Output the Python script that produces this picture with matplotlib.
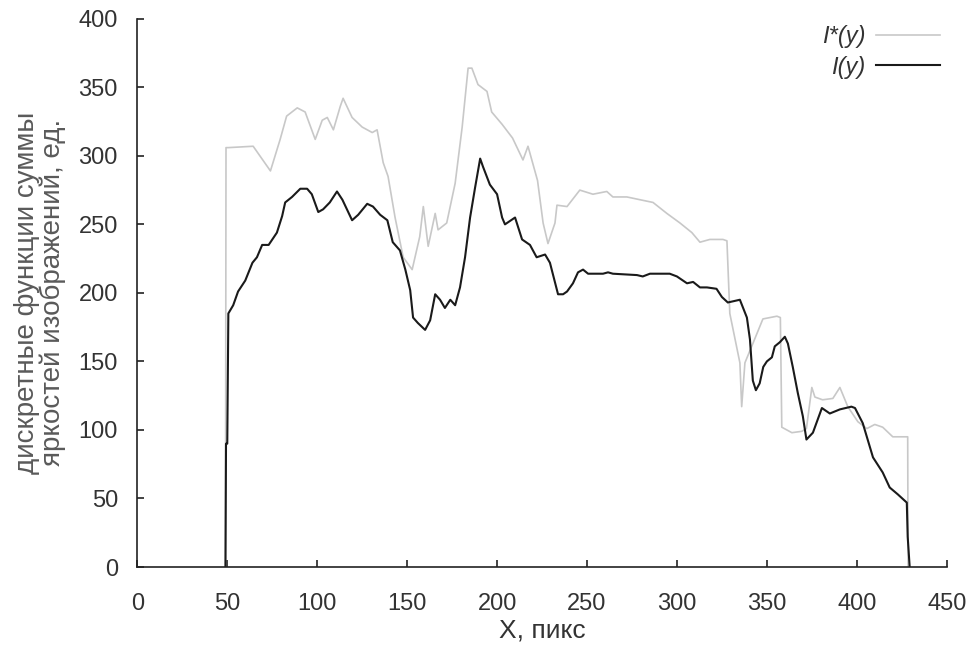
import matplotlib
matplotlib.use("Agg")
from matplotlib import pyplot as plt

plt.rcParams['font.family'] = ['Liberation Sans', 'DejaVu Sans']

# I*(y) - light gray curve
x_star = [49, 49.3, 50.6, 64.4, 74, 79.4, 83, 88.9, 93.3, 98.9, 102.8, 105.6, 109,
          112.8, 114.4, 119.4, 125, 130.6, 133.3, 136.7, 139.4, 143.3, 147.8, 152.8,
          157, 159, 161.7, 165.6, 167.2, 172, 176.7, 180.6, 183.9, 186, 189.4, 194.4,
          197, 202.8, 208.6, 214.4, 217.2, 222.5, 225.6, 228.3, 232.2, 233.3, 238.9,
          246, 253.3, 261, 264.4, 272.2, 279.4, 286.7, 294.4, 301.7, 308.3, 312.8,
          318.3, 325.6, 327.8, 329.4, 335, 336, 337.8, 342.2, 347.8, 355.6, 357.5,
          358.3, 363.9, 369.4, 372, 375, 376.7, 381, 386.7, 390.6, 395, 400.6, 405.6,
          410, 414.4, 420, 428.3, 428.5]
y_star = [0, 306, 306, 307, 289, 312, 329, 335, 332, 312, 326, 328, 319,
          336, 342, 328, 321, 317, 319, 295, 285, 255, 226, 217,
          241, 263, 234, 258, 246, 251, 280, 321, 364, 364, 352, 347,
          332, 323, 313, 297, 307, 282, 251, 236, 251, 264, 263,
          275, 272, 274, 270, 270, 268, 266, 258, 251, 244, 237,
          239, 239, 238, 185, 149, 117, 149, 163, 181, 183, 182,
          102, 98, 99, 101, 131, 124, 122, 123, 131, 117, 106, 101,
          104, 102, 95, 95, 0]

# I(y) - black curve
x_main = [49, 49.3, 50, 50.6, 53.3, 56, 60, 64, 66.5, 69.4, 73, 77.6, 80.5, 82.2,
          86, 90.6, 94.4, 97, 100.6, 103.3, 107, 111, 114, 119.4, 122.8, 127.8,
          131, 135, 139, 142, 146, 149, 151.7, 153.3, 156, 160, 162.8, 165.6,
          168.3, 171, 174, 176.7, 179.4, 182.2, 185, 187.8, 190.6, 192.2, 196,
          200, 202.8, 204.4, 210, 213.9, 218.3, 222, 226.7, 229.4, 233.9, 236.7,
          238.9, 242.2, 245, 247.8, 250.6, 258.9, 261.7, 264.4, 277.8, 281, 285,
          296, 300, 305.6, 309, 312.8, 316.7, 322, 325, 328.3, 335, 338.9, 340.6,
          342.2, 343.9, 346, 348, 350, 352.8, 354.4, 357.2, 360, 361.7, 364.4,
          367.2, 370, 372, 375.6, 380.6, 385, 390.6, 397, 399, 403.3, 409, 414.4,
          418.3, 422.8, 427.8, 428.3, 429.4]
y_main = [0, 90, 90, 185, 191, 201, 209, 222, 226, 235, 235, 244, 256, 266,
          270, 276, 276, 272, 259, 261, 266, 274, 268, 253, 257, 265,
          263, 257, 253, 237, 231, 217, 202, 182, 178, 173, 180, 199,
          195, 189, 195, 191, 204, 226, 255, 277, 298, 292, 279,
          272, 255, 250, 255, 239, 235, 226, 228, 222, 199, 199,
          201, 207, 215, 217, 214, 214, 215, 214, 213, 212, 214,
          214, 212, 207, 208, 204, 204, 203, 197, 193, 195, 182, 166,
          136, 129, 134, 146, 150, 153, 161, 164, 168, 163, 146,
          127, 110, 93, 98, 116, 112, 115, 117, 116, 105, 80, 69,
          58, 53, 47, 22, 0]

fig = plt.figure(figsize=(9.74, 6.48), dpi=100)
ax = fig.add_axes([0.141, 0.125, 0.831, 0.846])

ax.plot(x_star, y_star, color='#c8c8c8', lw=1.2, label='I*(y)')
ax.plot(x_main, y_main, color='#1a1a1a', lw=1.5, label='I(y)')

ax.set_xlim(0, 450)
ax.set_ylim(0, 400)
ax.set_xticks(range(0, 451, 50))
ax.set_yticks(range(0, 401, 50))
for side in ('top', 'right'):
    ax.spines[side].set_visible(False)
for side in ('left', 'bottom'):
    ax.spines[side].set_linewidth(1.2)
    ax.spines[side].set_color('#222222')
ax.tick_params(direction='in', length=5, width=1.2, color='#222222',
               labelsize=17, labelcolor='#333333')
ax.tick_params(axis='x', pad=19)
ax.tick_params(axis='y', pad=14)

ax.set_xlabel('X, пикс', fontsize=19, color='#333333', labelpad=2)
ax.set_ylabel('дискретные функции суммы\nяркостей изображений, ед.',
              fontsize=20, color='#5a5a5a', labelpad=9, linespacing=1.0)

leg = ax.legend(loc='upper right', bbox_to_anchor=(1.003, 1.005), frameon=False,
                markerfirst=False, handlelength=2.7, handletextpad=0.45,
                labelspacing=0.3, borderaxespad=0,
                prop={'size': 17, 'style': 'italic'})
for t in leg.get_texts():
    t.set_color('#333333')

fig.savefig('out.png', dpi=100)
